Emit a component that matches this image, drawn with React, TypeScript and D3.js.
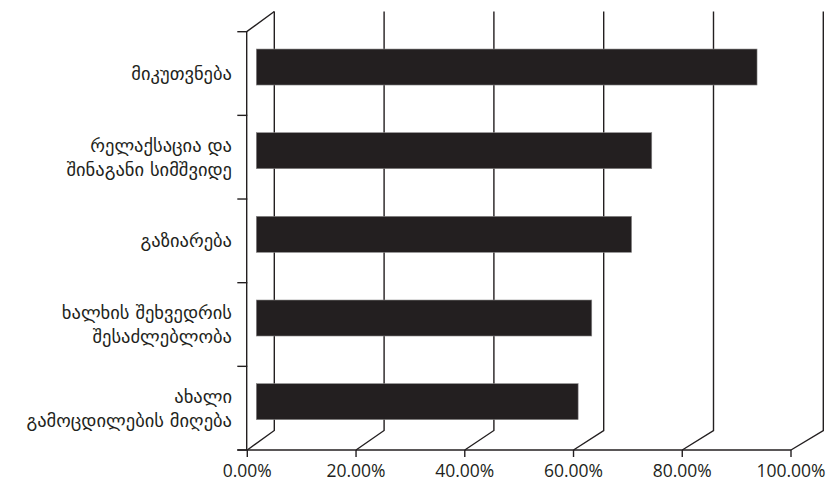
import React from "react";
import * as d3 from "d3";

const categories: string[][] = [
  ["მიკუთვნება"],
  ["რელაქსაცია და", "შინაგანი სიმშვიდე"],
  ["გაზიარება"],
  ["ხალხის შეხვედრის", "შესაძლებლობა"],
  ["ახალი", "გამოცდილების მიღება"],
];
const values: number[] = [0.918, 0.725, 0.688, 0.615, 0.59];
const tickValues: number[] = [0, 0.2, 0.4, 0.6, 0.8, 1];
const tickLabels: string[] = ["0.00%", "20.00%", "40.00%", "60.00%", "80.00%", "100.00%"];

const W = 837;
const H = 488;
const INK = "#231f20";

export default function App() {
  const xFront = d3.scaleLinear().domain([0, 1]).range([247.3, 791]);
  const xBack = d3.scaleLinear().domain([0, 1]).range([274.3, 823.3]);
  const depthFrac = 1 / 3;
  const xBar = (v: number) => xFront(v) + (xBack(v) - xFront(v)) * depthFrac;
  const dyBack = -19.5;
  const frontTop = 31.7;
  const frontBottom = 450;
  const backTop = 11.5;
  const backBottom = frontBottom + dyBack;

  const keys = categories.map((_, i) => String(i));
  const y = d3.scaleBand<string>().domain(keys).range([frontTop, frontBottom]).padding(0);
  const band = y.bandwidth();
  const barH = 36;
  const line = d3.line<[number, number]>();

  return (
    <svg
      width={W}
      height={H}
      style={{ position: "absolute", left: 0, top: 0, background: "#fff" }}
    >
      {/* back wall gridlines with floor diagonals */}
      {tickValues.map((t, i) => (
        <path
          key={"g" + i}
          d={line([
            [xBack(t), backTop],
            [xBack(t), backBottom],
            [xFront(t), frontBottom],
          ]) || ""}
          fill="none"
          stroke={INK}
          strokeWidth={1.4}
        />
      ))}
      {/* left axis front edge with top diagonal */}
      <path
        d={line([
          [xBack(0), backTop],
          [xFront(0) - 0.6, frontTop],
          [xFront(0) - 0.6, frontBottom],
        ]) || ""}
        fill="none"
        stroke={INK}
        strokeWidth={1.4}
      />
      {/* category ticks */}
      {[...keys.map((k) => y(k) as number), frontBottom].map((yy, i) => (
        <line
          key={"ct" + i}
          x1={237.3}
          x2={xFront(0)}
          y1={yy}
          y2={yy}
          stroke={INK}
          strokeWidth={1.4}
        />
      ))}
      {/* floor front edge */}
      <line x1={237.3} x2={xFront(1)} y1={frontBottom} y2={frontBottom} stroke={INK} strokeWidth={1.4} />
      {tickValues.map((t, i) => (
        <line
          key={"xt" + i}
          x1={xFront(t)}
          x2={xFront(t)}
          y1={frontBottom}
          y2={frontBottom + 7}
          stroke={INK}
          strokeWidth={1.4}
        />
      ))}
      {/* bars */}
      {values.map((v, i) => {
        const cy = (y(keys[i]) as number) + band / 2 + dyBack * depthFrac;
        return (
          <rect
            key={"b" + i}
            x={xBar(0)}
            y={cy - barH / 2}
            width={xBar(v) - xBar(0)}
            height={barH}
            fill={INK}
            stroke="#8a8889"
            strokeWidth={0.6}
          />
        );
      })}
      {/* x tick labels */}
      {tickValues.map((t, i) => (
        <text
          key={"xl" + i}
          x={xFront(t)}
          y={477}
          textAnchor="middle"
          fontFamily="'Open Sans', sans-serif"
          fontSize={17.5}
          fill={INK}
        >
          {tickLabels[i]}
        </text>
      ))}
      {/* category labels */}
      {categories.map((lines, i) => {
        const cy = (y(keys[i]) as number) + band / 2;
        const lh = 24;
        const start = cy - ((lines.length - 1) * lh) / 2;
        return (
          <text
            key={"cl" + i}
            textAnchor="end"
            fontFamily="'DejaVu Sans', sans-serif"
            fontSize={18.5}
            fill={INK}
          >
            {lines.map((s, j) => (
              <tspan key={j} x={232} y={start + j * lh} dy="0.35em">
                {s}
              </tspan>
            ))}
          </text>
        );
      })}
    </svg>
  );
}
